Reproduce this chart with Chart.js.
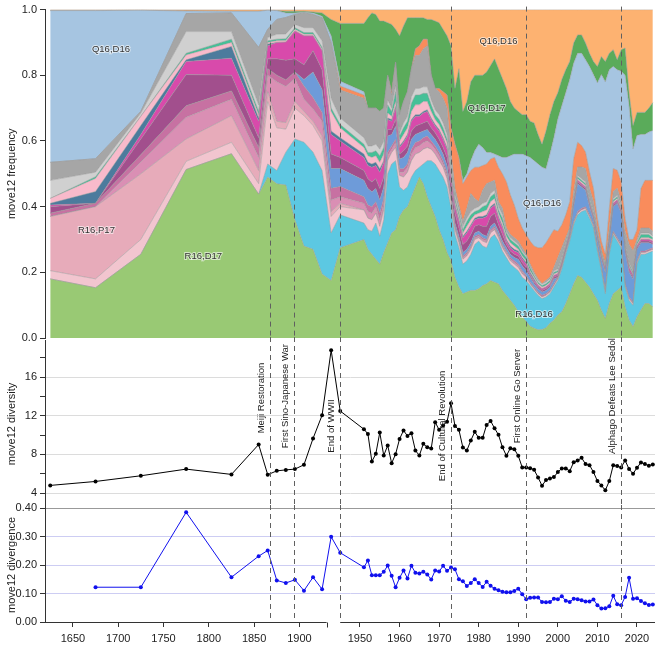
<!DOCTYPE html>
<html>
<head>
<meta charset="utf-8">
<script src="https://cdn.jsdelivr.net/npm/chart.js@4.4.1/dist/chart.umd.min.js"></script>
<style>
  html, body { margin: 0; padding: 0; background: #fff; }
  #wrap { position: relative; width: 660px; height: 645px; }
  canvas { position: absolute; left: 0; top: 0; }
</style>
</head>
<body>
<div id="wrap">
  <canvas id="freq" width="660" height="645"></canvas>
  <canvas id="diversity" width="660" height="645"></canvas>
  <canvas id="divergence" width="660" height="645"></canvas>
</div>
<script>
// time points: 50-year / 10-year bins before WWII, yearly after 1950
const years = [1625,1675,1725,1775,1825,1855,1865,1875,1885,1895,1905,1915,1925,1935,1945,
  1951,1952,1953,1954,1955,1956,1957,1958,1959,1960,
  1961,1962,1963,1964,1965,1966,1967,1968,1969,1970,
  1971,1972,1973,1974,1975,1976,1977,1978,1979,1980,
  1981,1982,1983,1984,1985,1986,1987,1988,1989,1990,
  1991,1992,1993,1994,1995,1996,1997,1998,1999,2000,
  2001,2002,2003,2004,2005,2006,2007,2008,2009,2010,
  2011,2012,2013,2014,2015,2016,2017,2018,2019,2020,
  2021,2022,2023,2024];

const xTickYears = [1650,1700,1750,1800,1850,1900,1950,1960,1970,1980,1990,2000,2010,2020];

// move12 frequency per move (stack order bottom -> top)
const freqR16D17 = [.18,.153,.255,.513,.561,.438,.49,.47,.466,.36,.28,.27,.195,.175,.275,
  .30,.27,.255,.24,.225,.26,.29,.32,.33,.37,
  .39,.40,.43,.46,.49,.47,.43,.40,.37,.33,
  .30,.26,.235,.185,.155,.135,.14,.145,.145,.15,
  .16,.165,.175,.17,.165,.145,.13,.115,.10,.08,
  .065,.05,.036,.03,.025,.026,.031,.045,.055,.07,
  .08,.105,.135,.165,.19,.185,.17,.155,.135,.115,
  .085,.06,.105,.135,.145,.155,.095,.055,.035,.065,
  .085,.105,.105,.095];
const freqR16D16 = [0,0,0,0,0,0,.04,.04,.10,.246,.316,.296,.315,.145,.10,
  .05,.06,.07,.11,.085,.10,.21,.21,.21,.09,
  .06,.06,.06,.05,.03,.06,.11,.14,.16,.18,
  .19,.20,.16,.13,.12,.09,.095,.11,.14,.145,
  .12,.11,.13,.145,.13,.12,.115,.11,.115,.125,
  .12,.125,.124,.115,.105,.094,.094,.09,.10,.105,
  .13,.15,.16,.18,.185,.20,.22,.21,.20,.15,
  .12,.075,.15,.18,.15,.12,.06,.06,.065,.16,
  .17,.15,.155,.17];
const freqPalePink = [.025,.027,.045,.025,.035,.032,.19,.13,.07,.094,.081,.081,.09,.05,.025,
  .04,.035,.035,.03,.03,.03,.04,.035,.04,.035,
  .04,.045,.05,.05,.045,.045,.04,.035,.03,.03,
  .03,.025,.02,.015,.015,.015,.015,.015,.015,.01,
  .015,.015,.015,.015,.01,.01,.01,.01,.01,.01,
  .01,.01,.005,.005,.005,.005,.005,.005,.005,.005,
  .005,.005,.005,.005,.005,.005,.005,.005,.005,.005,
  .005,.005,.005,.005,.005,.005,.005,.005,.005,.005,
  .005,.005,.005,.005];
const freqR16P17 = [.165,.22,.20,.068,.081,.04,.03,.02,.02,.02,.013,.013,.015,.015,.01,
  0,0,0,0,0,0,0,0,0,0,
  0,0,0,0,0,0,0,0,0,0,
  0,0,0,0,0,0,0,0,0,0,
  0,0,0,0,0,0,0,0,0,0,
  0,0,0,0,0,0,0,0,0,0,
  0,0,0,0,0,0,0,0,0,0,
  0,0,0,0,0,0,0,0,0,0,
  0,0,0,0];
const freqMidPink = [0,0,.036,.066,.05,.04,.05,.12,.11,.07,.037,.037,.045,.035,.02,
  .02,.02,.02,.02,.02,.02,.015,.01,.015,.01,
  .015,.015,.02,.02,.02,.02,.02,.015,.015,.015,
  .01,.01,.01,.005,.005,.005,.005,.005,.005,.005,
  .005,.005,.005,.005,.005,.005,.005,.005,.005,.005,
  .005,0,0,0,0,0,0,0,0,0,
  0,0,0,0,0,0,0,0,0,0,
  0,0,0,0,0,0,0,0,0,0,
  0,0,0,0];
const freqMauve = [.01,.01,.022,.035,.025,.03,.02,.02,.02,.02,.04,.035,.027,.036,.031,
  .02,.02,.02,.015,.02,.015,.01,.01,.01,.01,
  .01,.01,.015,.015,.015,.015,.015,.01,.01,.01,
  .01,.01,.005,.005,.005,.005,.005,.005,.005,.005,
  .005,.005,.005,.005,.005,.005,.005,.005,.005,.005,
  .005,.005,.005,.005,.005,.005,.005,.005,.005,.005,
  .005,.005,.005,.005,.005,.005,.005,.005,.005,.005,
  .005,.005,.005,.005,.005,.005,.005,.005,.005,.005,
  .005,.005,.005,.005];
const freqPeriwinkle = [0,0,0,0,0,0,0,0,0,0,.02,.078,.07,.06,.055,
  .05,.05,.045,.04,.04,.035,.05,.035,.04,.03,
  .035,.035,.03,.025,.025,.02,.02,.02,.02,.02,
  .02,.02,.01,.01,.01,.01,.01,.01,.01,.01,
  .01,.01,.01,.01,.01,.01,.01,.01,.01,.015,
  .015,.015,.015,.01,.01,.01,.01,.01,.015,0,
  0,0,.005,.045,.085,.065,.05,.025,.015,.025,
  .025,.055,.025,.075,.105,.095,.095,.075,.07,.035,
  .025,.025,.02,.01];
const freqPurple = [.02,0,.048,.095,.048,.03,.03,.05,.06,.04,.045,.065,.06,.044,.034,
  .03,.03,.03,.03,.035,.03,.02,.015,.02,.015,
  .02,.02,.025,.025,.025,.025,.025,.02,.02,.02,
  .02,.025,.03,.03,.025,.025,.025,.025,.02,.02,
  .025,.03,.03,.03,.02,.02,.01,.01,.01,.01,
  .01,.01,.005,.005,.005,.005,.005,.005,.005,.005,
  .005,.005,.005,.005,.005,.005,.005,.005,.005,.005,
  .005,.005,.005,.005,.005,.005,.005,.005,.005,.005,
  .005,.005,.005,.005];
const freqMagenta = [.005,0,.014,.04,.052,.05,.04,.05,.055,.085,.088,.045,.058,.06,.05,
  .04,.04,.045,.04,.05,.045,.03,.025,.035,.02,
  .025,.03,.03,.03,.025,.03,.03,.025,.02,.025,
  .025,.025,.02,.02,.02,.02,.025,.025,.02,.02,
  .025,.03,.025,.025,.02,.02,.01,.01,.01,.01,
  .01,.01,.005,.005,.005,.005,.005,.005,.005,.005,
  .005,.005,.005,.005,.005,.005,.005,.005,.005,.005,
  .005,.005,.005,.005,.005,.005,.005,.01,.005,.005,
  .005,.005,.005,.005];
const freqSteel = [.005,.036,.027,.005,.036,.01,.005,0,0,0,0,0,0,.01,.01,
  .01,.01,.01,.01,.01,.005,.005,.005,.005,.005,
  .005,.005,.005,.005,.005,.005,.005,.005,.005,.005,
  .005,.005,.005,.005,.005,.005,.005,.005,.005,.005,
  .005,.005,.005,.005,.005,.005,.005,.005,.005,.005,
  .005,.005,.005,.005,0,0,0,0,0,0,
  0,0,0,0,0,0,0,0,0,0,
  0,0,0,0,0,0,0,0,0,0,
  0,0,0,0];
const freqLightPink = [.015,.04,.028,.015,.012,.01,.005,.005,.005,.005,.005,.005,.005,.06,.03,
  .02,.02,.02,.02,.02,.02,.015,.01,.015,.015,
  .02,.02,.025,.03,.03,.03,.025,.02,.015,.015,
  .015,.015,.015,.01,.01,.01,.015,.015,.01,.01,
  .015,.015,.015,.015,.01,.01,.01,.01,.01,.005,
  .005,.005,.005,.005,.005,.005,.005,.005,.005,.005,
  .005,.005,.005,.005,.005,.005,.005,.005,.005,.005,
  .005,.005,.005,.005,.005,.005,.005,.005,.005,.005,
  .005,.005,.005,.005];
const freqTeal = [0,.005,0,.005,.01,.01,.005,.005,.005,.005,.005,.005,.005,.01,.01,
  .01,.01,.015,.015,.02,.02,.025,.015,.03,.015,
  .02,.02,.025,.03,.03,.025,.025,.02,.015,.015,
  .015,.01,.01,.01,.01,.01,.015,.015,.01,.01,
  .015,.015,.015,.015,.01,.015,.01,.01,.01,.01,
  .01,.01,.01,.005,.005,.005,.005,.005,.005,.005,
  .005,.005,.005,.005,.005,.005,.005,.005,.005,.005,
  .005,.005,.005,.005,.005,.005,.005,.005,.005,.005,
  .01,.01,.01,.005];
const freqLightGray = [.055,.014,.01,.066,.023,.02,.01,.015,.015,.01,.015,.015,.02,.03,.02,
  .02,.02,.02,.02,.02,.02,.015,.01,.02,.01,
  .015,.015,.02,.02,.02,.02,.02,.015,.015,.015,
  .015,.015,.01,.01,.01,.01,.01,.01,.01,.01,
  .01,.01,.01,.01,.01,.01,.005,.005,.005,.005,
  .005,.005,.005,.005,.005,.005,.005,.005,.005,.005,
  .005,.005,.005,.005,.005,.005,.005,.005,.005,.005,
  .005,.005,.005,.005,.005,.005,.005,.005,.005,.005,
  .005,.005,.005,.005];
const freqOther = [.055,.041,.005,.055,.057,.175,.025,.045,.05,.03,.045,.04,.07,.17,.085,
  .12,.115,.115,.11,.115,.10,.075,.04,.07,.055,
  .065,.075,.085,.10,.10,.115,.125,.075,.065,.07,
  .075,.08,.036,.021,.015,.015,.03,.055,.03,.015,
  .04,.055,.035,.03,.015,.02,.01,.01,.01,.01,
  .01,.005,.005,.005,.005,0,.005,.005,.01,.035,
  .03,.015,0,.021,.026,.036,.041,.031,.031,.01,
  0,0,.02,.021,.021,.011,.04,.055,.06,.005,
  .015,.015,.015,.015];
const freqCoral = [0,0,0,0,0,0,0,0,0,0,0,0,0,0,.012,
  .01,0,0,0,0,0,0,.01,0,0,
  0,0,0,.02,.03,.03,.02,0,0,.01,
  .02,.04,.074,.134,.145,.115,.095,.07,.095,.105,
  .075,.06,.07,.07,.105,.105,.141,.121,.10,.07,
  .06,.06,.07,.08,.095,.11,.115,.125,.115,.08,
  .07,.07,.08,.10,.075,.065,.05,.05,.04,.03,
  .03,.03,.06,.07,.055,.06,.04,.015,.035,.03,
  .12,.145,.145,.155];
const freqQ16D16 = [.462,.451,.308,.008,.005,.11,.058,.027,.014,.005,.002,.005,.005,.02,.015,
  .01,0,0,0,0,0,0,0,0,0,
  0,0,0,0,0,0,0,0,0,0,
  0,0,0,0,0,.01,.01,.03,.05,.07,
  .055,.035,.02,.01,.035,.05,.074,.119,.155,.195,
  .225,.24,.255,.26,.255,.245,.225,.25,.28,.342,
  .362,.372,.372,.291,.271,.281,.281,.321,.346,.412,
  .507,.525,.422,.311,.306,.336,.435,.407,.276,.287,
  .165,.14,.147,.152];
const freqQ16D17 = [0,0,0,0,0,0,0,0,.005,.005,.003,.003,.01,.05,.176,
  .208,.275,.29,.285,.275,.265,.16,.205,.10,.24,
  .23,.225,.155,.095,.085,.065,.06,.17,.205,.20,
  .19,.18,.25,.17,.27,.21,.22,.24,.23,.21,
  .22,.245,.265,.29,.265,.24,.21,.165,.14,.13,
  .12,.125,.11,.115,.09,.07,.115,.12,.11,.08,
  .08,.07,.055,.061,.056,.056,.051,.04,.04,.05,
  .055,.062,.05,.051,.03,.066,.083,.04,.071,.07,
  .067,.067,.073,.085];
const freqQ16D16b = [.003,.003,.002,.004,.005,.005,.002,.003,.005,.005,.005,.007,.01,.03,.042,
  .042,.025,.01,.015,.035,.035,.04,.045,.06,.08,
  .05,.025,.025,.025,.025,.025,.03,.03,.035,.04,
  .06,.08,.11,.24,.18,.31,.28,.22,.20,.20,
  .20,.19,.17,.15,.18,.21,.24,.28,.30,.31,
  .32,.32,.34,.345,.38,.41,.37,.32,.28,.253,
  .213,.183,.158,.102,.077,.077,.102,.133,.158,.173,
  .143,.158,.133,.122,.153,.122,.117,.253,.353,.313,
  .313,.313,.30,.283];

const diversity = [4.79,5.2,5.79,6.48,5.93,9.03,5.9,6.3,6.4,6.48,6.93,9.65,12.06,18.8,12.5,
  10.61,10.13,7.27,8.06,10.27,7.89,8.93,7.1,8.03,9.61,
  10.48,9.92,10.2,8.41,7.89,9.1,8.75,8.62,11.34,10.55,
  11.0,11.4,13.3,10.96,10.55,8.72,8.41,9.44,10.34,9.72,
  9.72,11.06,11.47,10.72,10.03,8.75,7.86,8.65,8.55,7.86,
  6.65,6.65,6.58,6.41,5.62,4.76,5.34,5.52,5.65,6.17,
  6.55,6.55,6.27,7.2,7.38,7.65,7.0,6.89,6.17,5.24,
  4.79,4.28,5.24,6.89,6.79,6.65,7.38,6.48,6.0,6.62,
  7.17,7.0,6.83,6.96];
const divergence = [null,.122,.122,.385,.157,.231,.251,.146,.137,.148,.110,.157,.115,.299,.243,
  .192,.216,.164,.164,.164,.176,.198,.162,.122,.155,
  .181,.153,.197,.173,.170,.176,.167,.149,.181,.177,
  .197,.180,.191,.185,.150,.143,.126,.137,.150,.137,
  .123,.141,.127,.117,.111,.106,.104,.104,.109,.117,
  .097,.080,.085,.086,.086,.070,.069,.070,.082,.080,
  .090,.075,.070,.082,.080,.076,.072,.072,.079,.059,
  .047,.048,.055,.092,.062,.059,.088,.155,.082,.083,
  .074,.066,.060,.061];

const eventYears = [1868, 1894, 1945, 1973, 1992, 2016];
const eventNames = ['Meiji Restoration', 'First Sino-Japanese War', 'End of WWII',
  'End of Cultural Revolution', 'First Online Go Server', 'Alphago Defeats Lee Sedol'];
const eventLabelAt = [13.85, 14.05, 10.95, 10.95, 14.05, 14.05];

const areaLabels = [['Q16,D16', 1692, 0.88], ['R16,P17', 1676, 0.328], ['R16,D17', 1794, 0.25],
  ['Q16,D16', 1985, 0.904], ['Q16,D17', 1982, 0.699], ['Q16,D16', 1996, 0.41], ['R16,D16', 1994, 0.072]];

const bands = [
  ['R16,D17', freqR16D17, '#99c974'],
  ['R16,D16', freqR16D16, '#5cc8e2'],
  ['pale pink', freqPalePink, '#f2c5cf'],
  ['R16,P17', freqR16P17, '#e7abba'],
  ['mid pink', freqMidPink, '#da8fb4'],
  ['mauve', freqMauve, '#c771a2'],
  ['periwinkle', freqPeriwinkle, '#6e9bd9'],
  ['purple', freqPurple, '#a24f8d'],
  ['magenta', freqMagenta, '#d84aab'],
  ['steel', freqSteel, '#4c7b9d'],
  ['light pink', freqLightPink, '#f8bacb'],
  ['teal', freqTeal, '#45c097'],
  ['light gray', freqLightGray, '#d0d0d0'],
  ['other', freqOther, '#a6a6a6'],
  ['coral', freqCoral, '#f98c5c'],
  ['Q16,D16', freqQ16D16, '#a6c5e1'],
  ['Q16,D17', freqQ16D17, '#5aab5a'],
  ['Q16,D16 ', freqQ16D16b, '#fdb271']
];

// piecewise x axis: pre-1945 compressed
function warp(y) { return y >= 1945 ? y : 1945 - (1945 - y) * 0.229; }
const X_MIN = 1870.4, X_MAX = 2024.55;

Chart.defaults.font.family = '"Liberation Sans", Arial, sans-serif';
Chart.defaults.font.size = 11;
Chart.defaults.color = '#222';

function xScale(show) {
  const s = {
    type: 'linear', min: X_MIN, max: X_MAX, display: show,
    afterBuildTicks: sc => { sc.ticks = xTickYears.map(y => ({ value: warp(y) })); },
    ticks: { autoSkip: false, maxRotation: 0, padding: 5, callback: (v, i) => xTickYears[i] },
    grid: { drawOnChartArea: false, drawTicks: true, tickLength: 5, tickColor: '#333' },
    border: { display: false }
  };
  if (show) s.afterFit = sc => { sc.height = 23; };
  return s;
}
function yTitle(t) {
  return { display: true, text: t, color: '#222', font: { size: 11 }, padding: { top: 5, bottom: 0 } };
}

const eventLines = {
  id: 'eventLines',
  afterDatasetsDraw(chart) {
    const { ctx, chartArea: a, scales: { x } } = chart;
    ctx.save();
    ctx.strokeStyle = '#606060'; ctx.lineWidth = 1; ctx.setLineDash([5, 4]);
    eventYears.forEach(yr => {
      const px = Math.round(x.getPixelForValue(warp(yr))) + 0.5;
      ctx.beginPath(); ctx.moveTo(px, a.top - 3); ctx.lineTo(px, a.bottom); ctx.stroke();
    });
    ctx.restore();
  }
};

const common = {
  responsive: false, animation: false, devicePixelRatio: 1,
  plugins: { legend: { display: false }, tooltip: { enabled: false } }
};

// top panel: stacked frequencies
new Chart(document.getElementById('freq'), {
  type: 'line',
  data: {
    datasets: bands.map((b, i) => ({
      label: b[0],
      data: years.map((yr, j) => ({ x: warp(yr), y: b[1][j] })),
      backgroundColor: b[2], borderColor: 'rgba(150,150,150,0.85)', borderWidth: 0.6,
      fill: i === 0 ? 'origin' : '-1', pointRadius: 0, tension: 0
    }))
  },
  options: {
    ...common,
    layout: { padding: { top: 6, right: 5, bottom: 307, left: 0 } },
    scales: {
      x: xScale(false),
      y: {
        stacked: true, min: 0, max: 1,
        ticks: { stepSize: 0.2, callback: v => v.toFixed(1), padding: 3 },
        grid: { drawOnChartArea: false, tickLength: 5, tickColor: '#333' },
        border: { display: true, color: '#333' },
        title: yTitle('move12 frequency'),
        afterFit: s => { s.width = 45; }
      }
    }
  },
  plugins: [eventLines, {
    id: 'areaLabels',
    afterDraw(chart) {
      const { ctx, scales: { x, y } } = chart;
      ctx.save();
      ctx.font = '9.5px "Liberation Sans", Arial, sans-serif';
      ctx.textAlign = 'center'; ctx.textBaseline = 'middle';
      areaLabels.forEach(([t, yr, f]) => {
        const px = x.getPixelForValue(warp(yr)), py = y.getPixelForValue(f);
        ctx.lineWidth = 2; ctx.strokeStyle = 'rgba(255,255,255,0.6)';
        ctx.strokeText(t, px, py);
        ctx.fillStyle = '#333'; ctx.fillText(t, px, py);
      });
      ctx.restore();
    }
  }]
});

// middle panel: diversity
new Chart(document.getElementById('diversity'), {
  type: 'line',
  data: {
    datasets: [{
      data: years.map((yr, j) => ({ x: warp(yr), y: diversity[j] })),
      borderColor: '#000', borderWidth: 1, pointRadius: 2, pointBackgroundColor: '#000',
      pointBorderWidth: 0, tension: 0, fill: false
    }]
  },
  options: {
    ...common,
    layout: { padding: { top: 340, right: 5, bottom: 137, left: 0 } },
    scales: {
      x: xScale(false),
      y: {
        min: 2.45, max: 19.86,
        afterBuildTicks: s => { s.ticks = [4, 6, 8, 10, 12, 14, 16, 18].map(v => ({ value: v })); },
        ticks: { callback: v => (v % 4 === 0 ? v : ''), padding: 3 },
        grid: {
          color: c => (c.tick && c.tick.value % 4 === 0 ? '#dcdcdc' : 'rgba(0,0,0,0)'),
          tickLength: 5, tickColor: '#333'
        },
        border: { display: true, color: '#333' },
        title: yTitle('move12 diversity'),
        afterFit: s => { s.width = 45; }
      }
    }
  },
  plugins: [eventLines, {
    id: 'eventText',
    afterDraw(chart) {
      const { ctx, chartArea: a, scales: { x, y } } = chart;
      ctx.save();
      ctx.strokeStyle = '#999'; ctx.lineWidth = 1;
      ctx.beginPath(); ctx.moveTo(a.left, Math.round(a.bottom) + 0.5); ctx.lineTo(a.right, Math.round(a.bottom) + 0.5); ctx.stroke();
      ctx.font = '9.5px "Liberation Sans", Arial, sans-serif';
      ctx.fillStyle = '#222'; ctx.textAlign = 'center'; ctx.textBaseline = 'middle';
      eventYears.forEach((yr, i) => {
        const px = x.getPixelForValue(warp(yr)) - 9, py = y.getPixelForValue(eventLabelAt[i]);
        ctx.save(); ctx.translate(px, py); ctx.rotate(-Math.PI / 2);
        ctx.fillText(eventNames[i], 0, 0);
        ctx.restore();
      });
      ctx.restore();
    }
  }]
});

// bottom panel: divergence
new Chart(document.getElementById('divergence'), {
  type: 'line',
  data: {
    datasets: [{
      data: years.map((yr, j) => ({ x: warp(yr), y: divergence[j] })),
      borderColor: '#1010ee', borderWidth: 1, pointRadius: 2, pointBackgroundColor: '#1010ee',
      pointBorderWidth: 0, tension: 0, fill: false, spanGaps: false
    }]
  },
  options: {
    ...common,
    layout: { padding: { top: 508, right: 5, bottom: 0, left: 0 } },
    scales: {
      x: xScale(true),
      y: {
        min: 0, max: 0.4,
        ticks: { stepSize: 0.05, callback: v => v.toFixed(2), padding: 3 },
        grid: {
          color: c => (c.tick && [0.1, 0.2, 0.3].some(t => Math.abs(c.tick.value - t) < 1e-6) ? '#cdcdf3' : 'rgba(0,0,0,0)'),
          tickLength: 5, tickColor: '#333'
        },
        border: { display: true, color: '#333' },
        title: yTitle('move12 divergence'),
        afterFit: s => { s.width = 45; }
      }
    }
  },
  plugins: [eventLines, {
    id: 'brokenAxis',
    afterDraw(chart) {
      const { ctx, chartArea: a, scales: { x } } = chart;
      const yb = Math.round(a.bottom) + 0.5;
      const cut = x.getPixelForValue(warp(1930)), restart = x.getPixelForValue(warp(1945));
      ctx.save();
      ctx.strokeStyle = '#333'; ctx.lineWidth = 1;
      ctx.beginPath();
      ctx.moveTo(a.left, yb); ctx.lineTo(cut, yb);
      ctx.moveTo(Math.round(cut) + 0.5, yb); ctx.lineTo(Math.round(cut) + 0.5, yb + 5);
      ctx.moveTo(restart, yb); ctx.lineTo(a.right, yb);
      ctx.stroke();
      ctx.restore();
    }
  }]
});
</script>
</body>
</html>
